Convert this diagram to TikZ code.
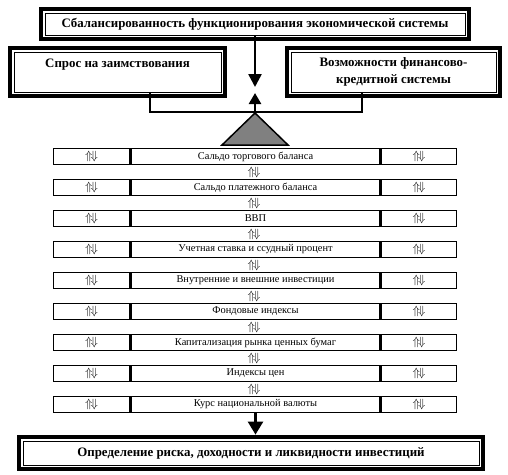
\documentclass[tikz,border=0pt]{standalone}
\usepackage{fontspec}
\setmainfont{Liberation Serif}
\usetikzlibrary{arrows.meta}

\newcommand{\dblarrows}{{\fontsize{12}{12}\selectfont$\Uparrow\!\Downarrow$}}

\begin{document}
\begin{tikzpicture}[
    x=1pt, y=-1pt,
    font=\fontsize{10.4}{12}\selectfont,
    bigbox/.style={
        draw=black, line width=0.8pt, fill=white,
        inner sep=0pt, align=center,
        font=\fontsize{12.9}{17}\selectfont\bfseries
    },
    outerframe/.style={draw=black, line width=4pt},
    cell/.style={
        draw=black, line width=1.5pt,
        minimum height=16pt, inner sep=0pt
    },
    lever/.style={draw=black, line width=2.5pt},
    pointer/.style={draw=black, line width=2.5pt,
        -{Triangle[width=13pt,length=13pt]}},
    fulcrum/.style={draw=black, line width=1.5pt, fill=black!50}
]
\useasboundingbox (0,0) rectangle (508,474);

%% ── Верхние блоки ────────────────────────────────────────────────
\node[bigbox, minimum width=420pt, minimum height=22pt] (balance) at (255,24)
    {Сбалансированность функционирования экономической системы};
\node[bigbox, minimum width=207pt, minimum height=40pt] (demand) at (117.5,72)
    {Спрос на заимствования\\\mbox{}};
\node[bigbox, minimum width=205pt, minimum height=40pt] (supply) at (393.5,72)
    {Возможности финансово-\\кредитной системы};
\node[bigbox, minimum width=456pt, minimum height=24pt] (result) at (251,453)
    {Определение риска, доходности и ликвидности инвестиций};
\foreach \b in {balance,demand,supply,result}
    \draw[outerframe] ([shift={(-4pt,4pt)}]\b.north west)
        rectangle ([shift={(4pt,-4pt)}]\b.south east);

%% ── Весы ─────────────────────────────────────────────────────────
\coordinate (tipdown) at (255,87);
\coordinate (tipup)   at (255,93);
\coordinate (apex)    at (255,113);
\coordinate (lpost)   at (150,112);
\coordinate (rpost)   at (362,112);
\draw[pointer] (balance.south) -- (tipdown);
\draw[lever] (demand.south -| lpost) -- (lpost) -- (rpost) -- (supply.south -| rpost);
\draw[fulcrum] (apex) -- (222,145) -- (288,145) -- cycle;
\draw[pointer, -{Triangle[width=12pt,length=11pt]}] (apex) -- (tipup);

%% ── Факторы ──────────────────────────────────────────────────────
\foreach \txt [count=\i] in {Сальдо торгового баланса, Сальдо платежного баланса,
    ВВП, Учетная ставка и ссудный процент, Внутренние и внешние инвестиции,
    Фондовые индексы, Капитализация рынка ценных бумаг, Индексы цен,
    Курс национальной валюты}{
    \node[cell, minimum width=249pt] (mid\i) at (255.5,125.5+31*\i) {\txt};
    \node[cell, minimum width=76pt, anchor=east] (lft\i) at (mid\i.west) {\dblarrows};
    \node[cell, minimum width=75pt, anchor=west] (rgt\i) at (mid\i.east) {\dblarrows};
}
\foreach \i in {1,...,8}
    \node (ud\i) at (254,141+31*\i) {\dblarrows};

\draw[pointer, -{Triangle[width=15pt,length=13pt]}, shorten >=6pt]
    (mid9.south) -- (mid9.south |- result.north);

\end{tikzpicture}
\end{document}
